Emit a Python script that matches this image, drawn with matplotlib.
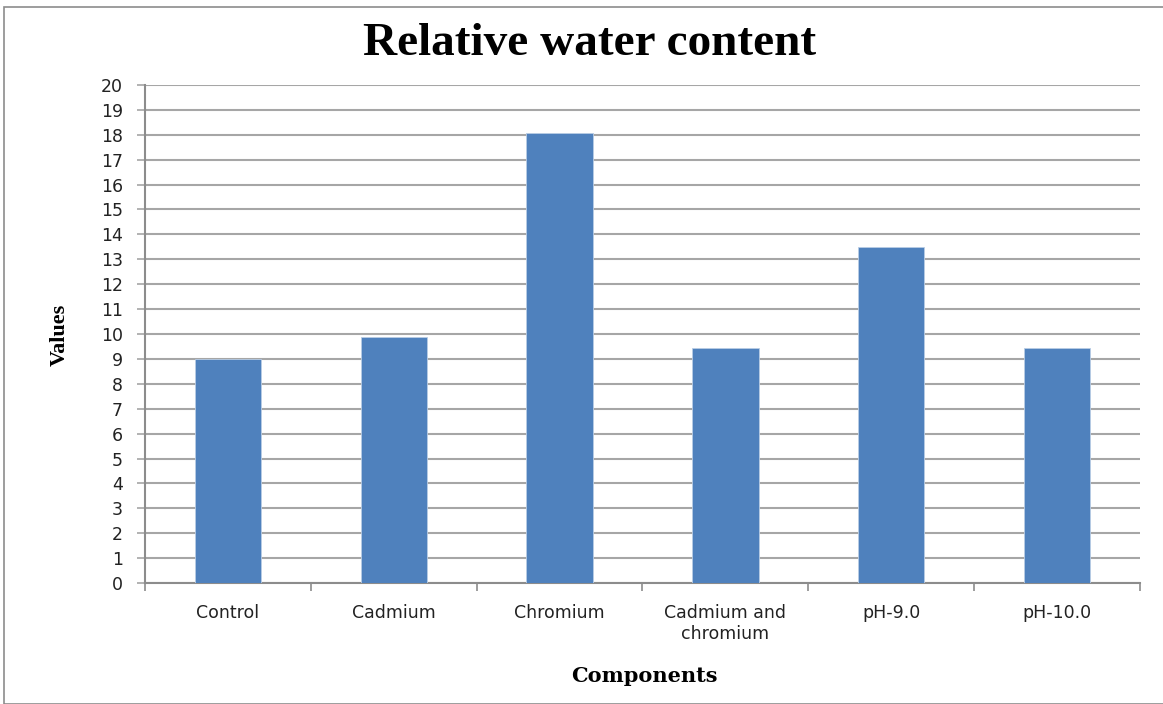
import matplotlib
matplotlib.use("Agg")
import matplotlib.pyplot as plt
from matplotlib.patches import Rectangle
import numpy as np

categories = ["Control", "Cadmium", "Chromium", "Cadmium and\nchromium", "pH-9.0", "pH-10.0"]
values = [9.0, 9.87, 18.08, 9.42, 13.5, 9.42]
yticks = list(range(0, 21))

W, H = 1163, 704
fig = plt.figure(figsize=(W / 100, H / 100), dpi=100)
fig.patch.set_facecolor("white")

# outer frame
fig.add_artist(Rectangle((4 / W, 0), 1.2, 1 - 7 / H, transform=fig.transFigure,
                         fill=False, edgecolor="#8c8c8c", linewidth=1.2))

ax = fig.add_axes([145 / W, 1 - 583 / H, (1140 - 145) / W, (583 - 85) / H])
x = np.arange(len(categories))
ax.bar(x, values, width=0.4, color="#4F81BD", edgecolor="#B9CDE5", linewidth=0.6, zorder=3)

ax.set_xlim(-0.5, len(categories) - 0.5)
ax.set_ylim(0, 20)
ax.set_yticks(yticks)
ax.set_yticklabels([str(v) for v in yticks], fontsize=12.5, color="#222222", family="DejaVu Sans")
ax.yaxis.grid(True, color="#A6A6A6", linewidth=1.5, zorder=0)
ax.tick_params(axis="y", length=6, width=1.2, color="#A6A6A6", pad=10)

ax.set_xticks(np.arange(-0.5, len(categories) + 0.5, 1))
ax.set_xticklabels([])
ax.tick_params(axis="x", which="major", length=6, width=1.2, color="#8c8c8c")
ax.set_xticks(x, minor=True)
ax.set_xticklabels(categories, minor=True, fontsize=12.5, color="#222222", linespacing=1.2,
                   family="DejaVu Sans")
ax.tick_params(axis="x", which="minor", length=0, pad=15)

for s in ["top", "right"]:
    ax.spines[s].set_visible(False)
for s in ["left", "bottom"]:
    ax.spines[s].set_color("#8c8c8c")
    ax.spines[s].set_linewidth(1.5)

fig.text(590 / W, 1 - 55 / H, "Relative water content", ha="center", va="baseline",
         fontsize=34, fontweight="bold", family="Liberation Serif")
fig.text(644 / W, 1 - 682 / H, "Components", ha="center", va="baseline",
         fontsize=15, fontweight="bold", family="DejaVu Serif")
fig.text(60 / W, 1 - 335 / H, "Values", ha="center", va="center", rotation=90,
         fontsize=16, fontweight="bold", family="Liberation Serif")

fig.savefig("out.png", dpi=100)
